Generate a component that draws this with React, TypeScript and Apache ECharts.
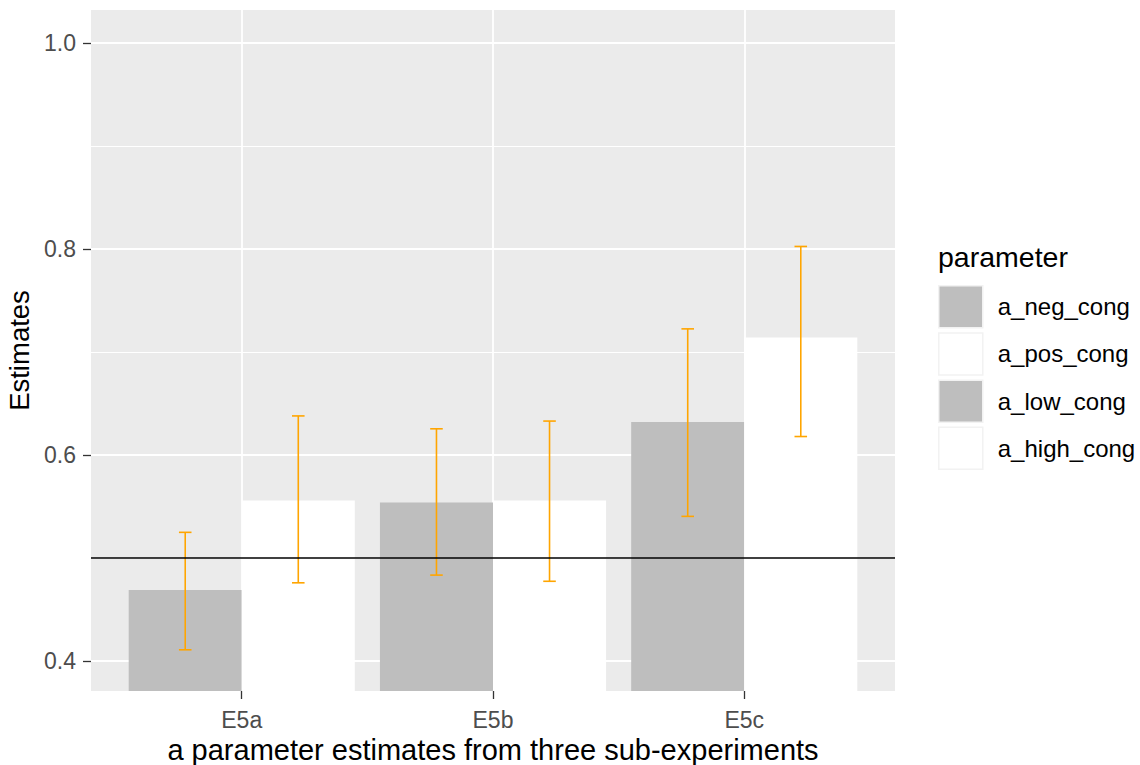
import React, { useEffect, useRef } from 'react';
import * as echarts from 'echarts';

const categories = ['E5a', 'E5b', 'E5c'];
const parameterNames = ['a_neg_cong', 'a_pos_cong', 'a_low_cong', 'a_high_cong'];
const negCong = [0.469, 0.554, null];
const negLower = [0.411, 0.4835, null];
const negUpper = [0.525, 0.6255, null];
const posCong = [0.556, 0.556, null];
const posLower = [0.476, 0.4775, null];
const posUpper = [0.638, 0.633, null];
const lowCong = [null, null, 0.632];
const lowLower = [null, null, 0.5405];
const lowUpper = [null, null, 0.7225];
const highCong = [null, null, 0.714];
const highLower = [null, null, 0.618];
const highUpper = [null, null, 0.8025];
const yTicks = [0.4, 0.6, 0.8, 1.0];
const yMinorTicks = [0.5, 0.7, 0.9];
const referenceLine = 0.5;
const yMin = 0.371;
const yMax = 1.032;

const FONT = '"Liberation Sans", Arial, sans-serif';
const GRAY = '#BEBEBE';
const WHITE = '#FFFFFF';
const ORANGE = '#FFA500';
const BAR_W = 0.45;
const CAP_HALF = 0.025;

function buildData(vals: (number | null)[], lo: (number | null)[], hi: (number | null)[]) {
  const out: number[][] = [];
  vals.forEach((v, i) => {
    if (v !== null) out.push([i, v, lo[i] as number, hi[i] as number]);
  });
  return out;
}

function makeSeries(name: string, color: string, side: number, data: number[][], extra: any = {}) {
  return {
    type: 'custom',
    name,
    itemStyle: { color },
    clip: true,
    data,
    encode: { x: 0, y: 1 },
    renderItem: (params: any, api: any) => {
      const x = api.value(0);
      const v = api.value(1);
      const lo = api.value(2);
      const hi = api.value(3);
      const cx = x + side * BAR_W / 2;
      const pTop = api.coord([cx - BAR_W / 2, v]);
      const pBot = api.coord([cx + BAR_W / 2, Math.max(0, yMin)]);
      const eHi = api.coord([cx, hi]);
      const eLo = api.coord([cx, lo]);
      const capL = api.coord([cx - CAP_HALF, hi])[0];
      const capR = api.coord([cx + CAP_HALF, hi])[0];
      const lineStyle = { stroke: ORANGE, lineWidth: 1.6 };
      return {
        type: 'group',
        children: [
          {
            type: 'rect',
            shape: { x: pTop[0], y: pTop[1], width: pBot[0] - pTop[0], height: pBot[1] - pTop[1] },
            style: { fill: color },
          },
          { type: 'line', shape: { x1: eHi[0], y1: eHi[1], x2: eLo[0], y2: eLo[1] }, style: lineStyle },
          { type: 'line', shape: { x1: capL, y1: eHi[1], x2: capR, y2: eHi[1] }, style: lineStyle },
          { type: 'line', shape: { x1: capL, y1: eLo[1], x2: capR, y2: eLo[1] }, style: lineStyle },
        ],
      };
    },
    ...extra,
  };
}

export default function App() {
  const ref = useRef<HTMLDivElement>(null);
  useEffect(() => {
    if (!ref.current) return;
    const chart = echarts.init(ref.current, null, { renderer: 'svg' });
    const option: any = {
      animation: false,
      textStyle: { fontFamily: FONT },
      title: {
        text: 'parameter',
        left: 938,
        top: 242,
        padding: 0,
        textStyle: { fontFamily: FONT, fontSize: 28.5, fontWeight: 'normal', color: '#000' },
      },
      legend: {
        orient: 'vertical',
        left: 938,
        top: 285,
        padding: 0,
        itemWidth: 44,
        itemHeight: 42,
        itemGap: 3.7,
        icon: 'rect',
        data: parameterNames,
        itemStyle: { borderColor: '#F2F2F2', borderWidth: 1.5 },
        textStyle: { fontFamily: FONT, fontSize: 24, color: '#000', padding: [0, 0, 0, 10] },
        selectedMode: false,
      },
      grid: {
        left: 91,
        right: 245,
        top: 10,
        bottom: 74,
        show: true,
        backgroundColor: '#EBEBEB',
        borderWidth: 0,
        containLabel: false,
        outerBoundsMode: 'none',
      },
      xAxis: {
        type: 'value',
        min: -0.6,
        max: categories.length - 1 + 0.6,
        name: 'a parameter estimates from three sub-experiments',
        nameLocation: 'middle',
        nameGap: 42,
        nameTextStyle: { fontFamily: FONT, fontSize: 29, color: '#000' },
        axisLine: { show: true, onZero: false, lineStyle: { color: 'rgba(0,0,0,0)', width: 0 } },
        axisTick: {
          show: true,
          inside: false,
          length: 8,
          customValues: categories.map((_, i) => i),
          lineStyle: { color: '#333333', width: 1.3 },
        },
        axisLabel: {
          customValues: categories.map((_, i) => i),
          formatter: (v: number) => categories[Math.round(v)] ?? '',
          margin: 17,
          fontFamily: FONT,
          fontSize: 23,
          color: '#4D4D4D',
        },
        splitLine: { show: true, lineStyle: { color: '#FFFFFF', width: 1.8 } },
      },
      yAxis: {
        type: 'value',
        min: yMin,
        max: yMax,
        name: 'Estimates',
        nameLocation: 'middle',
        nameGap: 53,
        nameTextStyle: { fontFamily: FONT, fontSize: 27.5, color: '#000' },
        axisLine: { show: true, onZero: false, lineStyle: { color: 'rgba(0,0,0,0)', width: 0 } },
        axisTick: {
          show: true,
          inside: false,
          length: 8,
          customValues: yTicks,
          lineStyle: { color: '#333333', width: 1.3 },
        },
        axisLabel: {
          customValues: yTicks,
          formatter: (v: number) => v.toFixed(1),
          margin: 15,
          fontFamily: FONT,
          fontSize: 23,
          color: '#4D4D4D',
        },
        splitLine: { show: true, lineStyle: { color: '#FFFFFF', width: 1.8 } },
      },
      series: [
        makeSeries(parameterNames[0], GRAY, -1, buildData(negCong, negLower, negUpper), {
          markLine: {
            z: 1,
            silent: true,
            symbol: 'none',
            label: { show: false },
            lineStyle: { color: '#FFFFFF', width: 1, type: 'solid' },
            data: yMinorTicks.map((t) => ({ yAxis: t })),
          },
        }),
        makeSeries(parameterNames[1], WHITE, 1, buildData(posCong, posLower, posUpper)),
        makeSeries(parameterNames[2], GRAY, -1, buildData(lowCong, lowLower, lowUpper)),
        makeSeries(parameterNames[3], WHITE, 1, buildData(highCong, highLower, highUpper), {
          markLine: {
            z: 10,
            silent: true,
            symbol: 'none',
            label: { show: false },
            lineStyle: { color: '#000000', width: 1.6, type: 'solid' },
            data: [{ yAxis: referenceLine }],
          },
        }),
      ],
    };
    chart.setOption(option);
    return () => chart.dispose();
  }, []);
  return (
    <div
      ref={ref}
      style={{ position: 'absolute', left: 0, top: 0, width: 1140, height: 765 }}
    />
  );
}
